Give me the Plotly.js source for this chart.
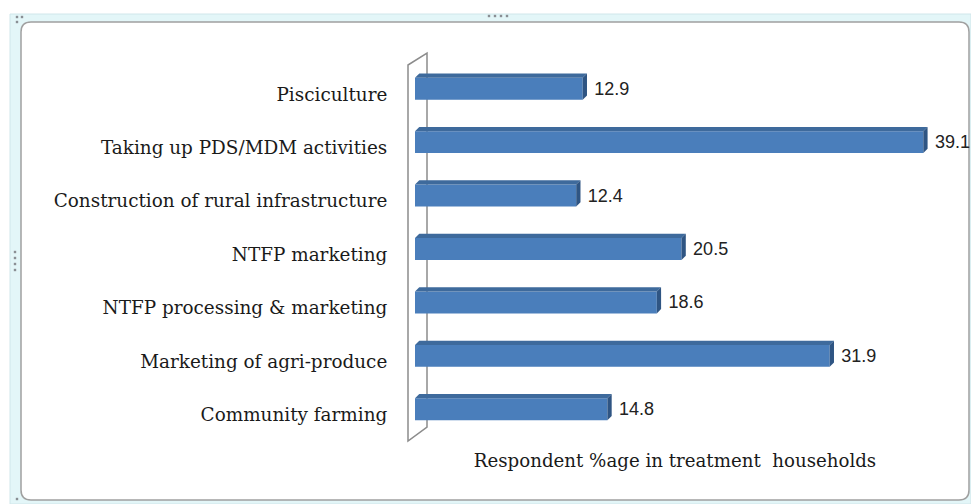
<!DOCTYPE html>
<html>
<head>
<meta charset="utf-8">
<script src="https://cdn.plot.ly/plotly-3.0.1.min.js"></script>
<style>html,body{margin:0;padding:0;background:#fff;}#chart{width:971px;height:504px;}</style>
</head>
<body>
<div id="chart"></div>
<script>
const categories = ['Community farming','Marketing of agri-produce','NTFP processing & marketing','NTFP marketing','Construction of rural infrastructure','Taking up PDS/MDM activities','Pisciculture'];
const values = [14.8, 31.9, 18.6, 20.5, 12.4, 39.1, 12.9];
const xTitle = 'Respondent %age in treatment  households';

const W = 971, H = 504;
const M = {l: 415, r: 36, t: 62, b: 68};
const PW = W - M.l - M.r, PH = H - M.t - M.b;
function px(x){ return (x - M.l) / PW; }
function py(y){ return (H - M.b - y) / PH; }

const pos = categories.map((c, i) => i);
const barW = 0.41, dx = 0.33, dy = 0.08;

const shapes = [];
// outer selection frame (light cyan band)
shapes.push({type:'rect', xref:'paper', yref:'paper', x0:px(10), x1:px(971), y0:py(14), y1:py(504),
  fillcolor:'#e3f6f8', line:{color:'#d0e6ea', width:1}, layer:'below'});
// inner rounded white chart frame
(function(){
  const x0=21, y0=22, x1=969, y1=500, r=10;
  const p = `M ${px(x0+r)},${py(y0)} L ${px(x1-r)},${py(y0)} Q ${px(x1)},${py(y0)} ${px(x1)},${py(y0+r)} ` +
            `L ${px(x1)},${py(y1-r)} Q ${px(x1)},${py(y1)} ${px(x1-r)},${py(y1)} L ${px(x0+r)},${py(y1)} ` +
            `Q ${px(x0)},${py(y1)} ${px(x0)},${py(y1-r)} L ${px(x0)},${py(y0+r)} Q ${px(x0)},${py(y0)} ${px(x0+r)},${py(y0)} Z`;
  shapes.push({type:'path', xref:'paper', yref:'paper', path:p, fillcolor:'#ffffff', line:{color:'#a0a0a0', width:1.5}, layer:'below'});
})();
// handle dots
function dot(x,y){ shapes.push({type:'rect', xref:'paper', yref:'paper', x0:px(x-1.2), x1:px(x+1.2), y0:py(y+1.2), y1:py(y-1.2), fillcolor:'#8a8f94', line:{width:0}, layer:'above'}); }
[489,495,501,507].forEach(x => dot(x, 16));
[252,258,264,270].forEach(y => dot(15, y));
dot(17,17); dot(22,17); dot(17,22);
dot(17,499);
// wall (3D back wall outline)
shapes.push({type:'path', xref:'paper', yref:'paper',
  path:`M ${px(408)},${py(65)} L ${px(427)},${py(53)} L ${px(427)},${py(427)} L ${px(408)},${py(441)} Z`,
  fillcolor:'rgba(255,255,255,0)', line:{color:'#8c8c8c', width:1.5}, layer:'below'});
// 3D top and side faces of bars
pos.forEach((p, i) => {
  const v = values[i];
  const t = p + barW/2, b = p - barW/2;
  shapes.push({type:'path', xref:'x', yref:'y', layer:'above',
    path:`M 0,${t} L ${v},${t} L ${v+dx},${t+dy} L ${dx},${t+dy} Z`,
    fillcolor:'#3e6a9c', line:{width:0}});
  shapes.push({type:'path', xref:'x', yref:'y', layer:'above',
    path:`M ${v},${b} L ${v+dx},${b+dy} L ${v+dx},${t+dy} L ${v},${t} Z`,
    fillcolor:'#2f5583', line:{width:0}});
});

const trace = {
  type:'bar', orientation:'h', x: values, y: pos, width: barW,
  marker:{color:'#4a7ebb', line:{width:0}},
  text: values.map(v => v.toFixed(1)),
  texttemplate:'\u00a0\u2009%{text}',
  textposition:'outside', cliponaxis:false,
  textfont:{family:'Liberation Sans, Arial, sans-serif', size:18, color:'#222'},
  hoverinfo:'none'
};

const layout = {
  width: W, height: H,
  margin: M,
  paper_bgcolor:'#ffffff', plot_bgcolor:'rgba(0,0,0,0)',
  showlegend:false,
  shapes: shapes,
  xaxis:{range:[0,40], showgrid:false, zeroline:false, showline:false, showticklabels:false, ticks:'',
    title:{text:xTitle, standoff:18, font:{family:'DejaVu Serif, serif', size:18.2, color:'#1a1a1a'}}, automargin:false},
  yaxis:{range:[-0.5,6.5], tickvals: pos.map(p => p - 0.1), ticktext: categories,
    showgrid:false, zeroline:false, showline:false, ticks:'outside', ticklen:23, tickcolor:'rgba(0,0,0,0)',
    tickfont:{family:'DejaVu Serif, serif', size:18.4, color:'#1a1a1a'}, automargin:false},
  bargap:0.5
};

Plotly.newPlot('chart', [trace], layout, {displayModeBar:false, staticPlot:true});
</script>
</body>
</html>
